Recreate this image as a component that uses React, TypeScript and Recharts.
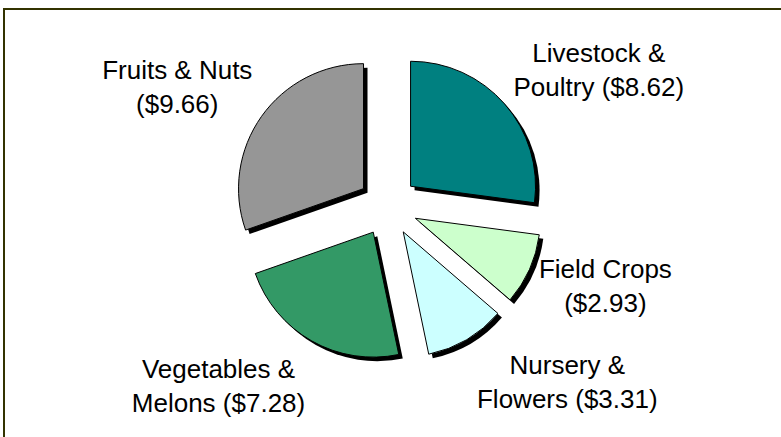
import { Pie, PieChart, Sector } from "recharts";

// billions of dollars, clockwise from 12 o'clock
const categories = [
  "Livestock &\nPoultry",
  "Field Crops",
  "Nursery &\nFlowers",
  "Vegetables &\nMelons",
  "Fruits & Nuts",
];
const values = [8.62, 2.93, 3.31, 7.28, 9.66];
const colors = ["#008080", "#CCFFCC", "#CCFFFF", "#339966", "#969696"];

// layout only
const EXPLODE = 30;
const LABEL_R = 235;
const labelNudge = [
  [34, 28],
  [3, -7],
  [60, -17],
  [-54, -16],
  [-19, 26],
];

const data = categories.map((name, i) => ({ name, value: values[i] }));

const RAD = Math.PI / 180;

function ExplodedSlice(props: any) {
  const { cx, cy, outerRadius, startAngle, endAngle, midAngle, index, name, value } = props;
  const dx = Math.cos(midAngle * RAD);
  const dy = -Math.sin(midAngle * RAD);
  const sx = cx + EXPLODE * dx;
  const sy = cy + EXPLODE * dy;

  const parts = String(name).split("\n");
  const money = `($${value.toFixed(2)})`;
  const line1 = parts[0];
  const line2 = parts.length > 1 ? `${parts[1]} ${money}` : money;
  const ax = cx + LABEL_R * dx + labelNudge[index][0];
  const ay = cy + LABEL_R * dy + labelNudge[index][1];

  return (
    <g>
      <Sector
        cx={sx + 4}
        cy={sy + 4}
        innerRadius={0}
        outerRadius={outerRadius}
        startAngle={startAngle}
        endAngle={endAngle}
        fill="#000"
        stroke="none"
      />
      <Sector
        cx={sx}
        cy={sy}
        innerRadius={0}
        outerRadius={outerRadius}
        startAngle={startAngle}
        endAngle={endAngle}
        fill={colors[index]}
        stroke="#000"
        strokeWidth={1}
      />
      <text
        x={ax}
        textAnchor="middle"
        fontFamily="'Liberation Sans', Arial, sans-serif"
        fontSize={26}
        fill="#000"
      >
        <tspan x={ax} y={ay - 17}>{line1}</tspan>
        <tspan x={ax} y={ay + 17}>{line2}</tspan>
      </text>
    </g>
  );
}

export default function App() {
  return (
    <div style={{ position: "absolute", left: 0, top: 0, width: 781, height: 437, background: "#fff", overflow: "hidden" }}>
      <div
        style={{
          position: "absolute",
          left: 3,
          top: 8,
          width: 800,
          height: 460,
          border: "2px solid #333300",
          boxSizing: "border-box",
        }}
      />
      <div style={{ position: "absolute", left: 0, top: 0 }}>
        <PieChart width={781} height={437} margin={{ top: 0, right: 0, bottom: 0, left: 0 }}>
          <Pie
            data={data}
            dataKey="value"
            nameKey="name"
            cx={388}
            cy={206}
            innerRadius={0}
            outerRadius={125}
            startAngle={90}
            endAngle={-270}
            fill="transparent"
            stroke="none"
            label={ExplodedSlice}
            labelLine={false}
            isAnimationActive={false}
          />
        </PieChart>
      </div>
    </div>
  );
}
